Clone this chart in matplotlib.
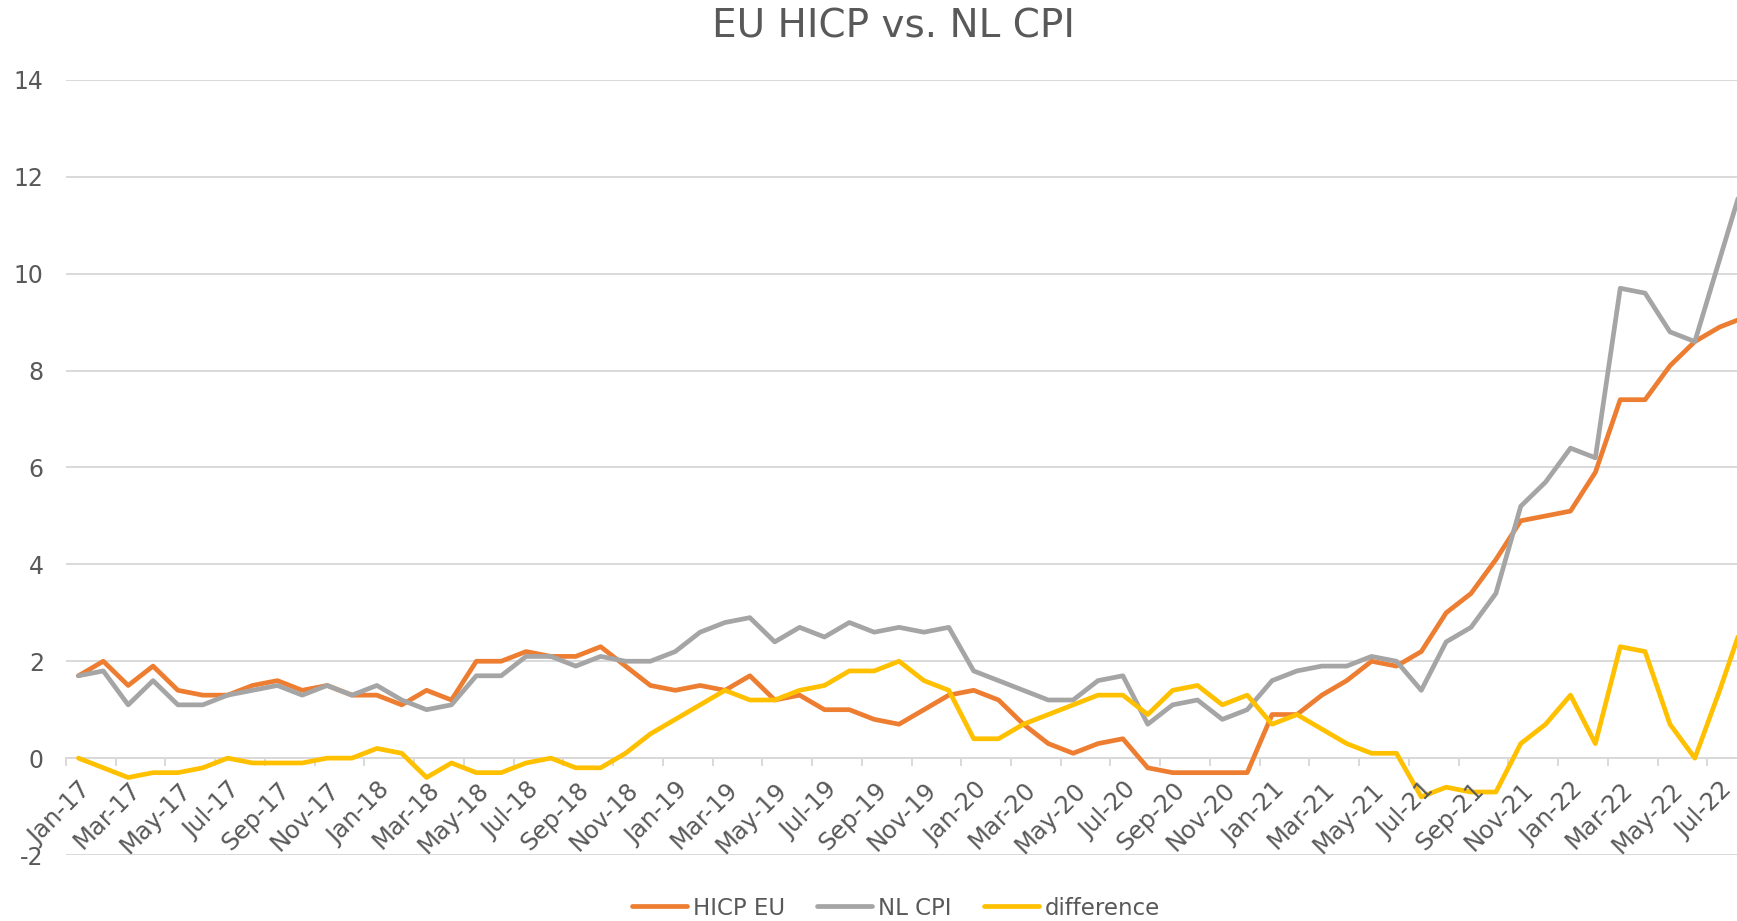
import matplotlib
matplotlib.use('Agg')
import matplotlib.pyplot as plt
from matplotlib.transforms import ScaledTranslation

months = ['Jan-17', 'Feb-17', 'Mar-17', 'Apr-17', 'May-17', 'Jun-17', 'Jul-17', 'Aug-17', 'Sep-17', 'Oct-17', 'Nov-17', 'Dec-17',
          'Jan-18', 'Feb-18', 'Mar-18', 'Apr-18', 'May-18', 'Jun-18', 'Jul-18', 'Aug-18', 'Sep-18', 'Oct-18', 'Nov-18', 'Dec-18',
          'Jan-19', 'Feb-19', 'Mar-19', 'Apr-19', 'May-19', 'Jun-19', 'Jul-19', 'Aug-19', 'Sep-19', 'Oct-19', 'Nov-19', 'Dec-19',
          'Jan-20', 'Feb-20', 'Mar-20', 'Apr-20', 'May-20', 'Jun-20', 'Jul-20', 'Aug-20', 'Sep-20', 'Oct-20', 'Nov-20', 'Dec-20',
          'Jan-21', 'Feb-21', 'Mar-21', 'Apr-21', 'May-21', 'Jun-21', 'Jul-21', 'Aug-21', 'Sep-21', 'Oct-21', 'Nov-21', 'Dec-21',
          'Jan-22', 'Feb-22', 'Mar-22', 'Apr-22', 'May-22', 'Jun-22', 'Jul-22', 'Aug-22']

hicp_eu = [1.7, 2.0, 1.5, 1.9, 1.4, 1.3, 1.3, 1.5, 1.6, 1.4, 1.5, 1.3,
           1.3, 1.1, 1.4, 1.2, 2.0, 2.0, 2.2, 2.1, 2.1, 2.3, 1.9, 1.5,
           1.4, 1.5, 1.4, 1.7, 1.2, 1.3, 1.0, 1.0, 0.8, 0.7, 1.0, 1.3,
           1.4, 1.2, 0.7, 0.3, 0.1, 0.3, 0.4, -0.2, -0.3, -0.3, -0.3, -0.3,
           0.9, 0.9, 1.3, 1.6, 2.0, 1.9, 2.2, 3.0, 3.4, 4.1, 4.9, 5.0,
           5.1, 5.9, 7.4, 7.4, 8.1, 8.6, 8.9, 9.1]

nl_cpi = [1.7, 1.8, 1.1, 1.6, 1.1, 1.1, 1.3, 1.4, 1.5, 1.3, 1.5, 1.3,
          1.5, 1.2, 1.0, 1.1, 1.7, 1.7, 2.1, 2.1, 1.9, 2.1, 2.0, 2.0,
          2.2, 2.6, 2.8, 2.9, 2.4, 2.7, 2.5, 2.8, 2.6, 2.7, 2.6, 2.7,
          1.8, 1.6, 1.4, 1.2, 1.2, 1.6, 1.7, 0.7, 1.1, 1.2, 0.8, 1.0,
          1.6, 1.8, 1.9, 1.9, 2.1, 2.0, 1.4, 2.4, 2.7, 3.4, 5.2, 5.7,
          6.4, 6.2, 9.7, 9.6, 8.8, 8.6, 10.3, 12.0]

difference = [0.0, -0.2, -0.4, -0.3, -0.3, -0.2, 0.0, -0.1, -0.1, -0.1, 0.0, 0.0,
              0.2, 0.1, -0.4, -0.1, -0.3, -0.3, -0.1, 0.0, -0.2, -0.2, 0.1, 0.5,
              0.8, 1.1, 1.4, 1.2, 1.2, 1.4, 1.5, 1.8, 1.8, 2.0, 1.6, 1.4,
              0.4, 0.4, 0.7, 0.9, 1.1, 1.3, 1.3, 0.9, 1.4, 1.5, 1.1, 1.3,
              0.7, 0.9, 0.6, 0.3, 0.1, 0.1, -0.8, -0.6, -0.7, -0.7, 0.3, 0.7,
              1.3, 0.3, 2.3, 2.2, 0.7, 0.0, 1.4, 2.9]

series_names = ['HICP EU', 'NL CPI', 'difference']
series_colors = ['#ED7D31', '#A5A5A5', '#FFC000']
yticks = list(range(-2, 15, 2))

TXT = '#595959'
GRID = '#D9D9D9'
plt.rcParams['font.family'] = ['DejaVu Sans']

W, H = 1737, 921
fig = plt.figure(figsize=(W / 100, H / 100), dpi=100)
left_px, right_px, top_px, bot_px = 66, 1757, 80, 855
ax = fig.add_axes([left_px / W, 1 - bot_px / H, (right_px - left_px) / W, (bot_px - top_px) / H])

x = list(range(len(months)))
handles = []
for vals, name, col in zip([hicp_eu, nl_cpi, difference], series_names, series_colors):
    h, = ax.plot(x, vals, color=col, lw=3.4, solid_capstyle='round', solid_joinstyle='round',
                 label=name, zorder=3)
    handles.append(h)

ax.set_xlim(-0.5, len(months) - 0.5)
ax.set_ylim(-2, 14)
ax.set_yticks(yticks)
ax.set_yticklabels([str(v) for v in yticks])
ax.grid(axis='y', color=GRID, lw=1.4, zorder=0)
for s in ['top', 'right', 'left']:
    ax.spines[s].set_visible(False)
ax.spines['bottom'].set_position(('data', 0))
ax.spines['bottom'].set_color(GRID)
ax.spines['bottom'].set_linewidth(1.4)
ax.tick_params(axis='y', length=0, pad=16, labelsize=17, labelcolor=TXT)

# category boundary ticks every 2 months
ax.set_xticks([i - 0.5 for i in range(0, len(months) + 1, 2)])
ax.set_xticklabels([])
ax.tick_params(axis='x', which='major', length=6, width=1.4, color=GRID, direction='out')

off = ScaledTranslation(0.09, -0.28, fig.dpi_scale_trans)
for i in range(0, len(months), 2):
    ax.text(i, 0, months[i], rotation=45, rotation_mode='anchor', ha='right', va='center',
            transform=ax.transData + off, fontsize=17.5, color=TXT, clip_on=False)

fig.text(893 / W, 1 - 27 / H, 'EU HICP vs. NL CPI', ha='center', va='center', fontsize=28, color=TXT)

fig.legend(handles, series_names, loc='center', bbox_to_anchor=(896 / W, 1 - 908 / H), ncol=3,
           frameon=False, fontsize=16.5, handlelength=2.4, handletextpad=0.25, columnspacing=1.4,
           labelcolor=TXT, borderaxespad=0, borderpad=0)

fig.savefig('out.png', dpi=100)
